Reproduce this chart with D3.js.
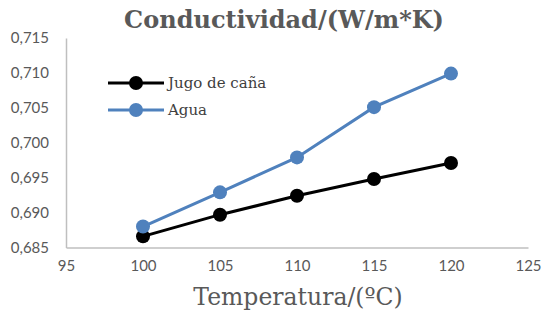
<!DOCTYPE html>
<html>
<head>
<meta charset="utf-8">
<script src="https://cdn.jsdelivr.net/npm/d3@7"></script>
<style>
  body { margin: 0; background: #fff; }
  svg { display: block; }
</style>
</head>
<body>
<div id="grafica"></div>
<script>
// datos
var temperaturas = [100, 105, 110, 115, 120];
var jugo = [0.6866, 0.6897, 0.6924, 0.6948, 0.6971];
var agua = [0.6880, 0.6929, 0.6979, 0.7051, 0.7099];
var series = ["Jugo de caña", "Agua"];
var colores = ["#000000", "#4f81bd"];
var ticksX = [95, 100, 105, 110, 115, 120, 125];
var ticksY = [0.685, 0.690, 0.695, 0.700, 0.705, 0.710, 0.715];

var ancho = 542, alto = 320;
var svg = d3.select("#grafica").append("svg")
  .attr("width", ancho)
  .attr("height", alto);

var x = d3.scaleLinear().domain([95, 125]).range([66, 528]);
var y = d3.scaleLinear().domain([0.685, 0.715]).range([247.5, 38]);

var es = d3.formatLocale({decimal: ",", thousands: ".", grouping: [3], currency: ["", "€"]});
var fmt = es.format(".3f");

var gris = "#595959";

// titulo
svg.append("text")
  .attr("x", 284)
  .attr("y", 28)
  .attr("text-anchor", "middle")
  .attr("font-family", "DejaVu Serif")
  .attr("font-weight", "bold")
  .attr("font-size", 24)
  .attr("fill", gris)
  .text("Conductividad/(W/m*K)");

// ejes
var ejeY = svg.append("g")
  .attr("transform", "translate(" + x(95) + ",0)")
  .call(d3.axisLeft(y).tickValues(ticksY).tickFormat(fmt).tickSize(0).tickPadding(17));
var ejeX = svg.append("g")
  .attr("transform", "translate(0," + y(0.685) + ")")
  .call(d3.axisBottom(x).tickValues(ticksX).tickSize(0).tickPadding(13));

[ejeX, ejeY].forEach(function (e) {
  e.select(".domain").attr("stroke", "#bfbfbf").attr("stroke-width", 1.5);
  e.selectAll("text")
    .attr("font-family", "Lato")
    .attr("font-size", 15)
    .attr("fill", gris);
});

// titulo eje x
svg.append("text")
  .attr("x", 298)
  .attr("y", 305)
  .attr("text-anchor", "middle")
  .attr("font-family", "DejaVu Serif")
  .attr("font-size", 23.5)
  .attr("fill", gris)
  .text("Temperatura/(ºC)");

// lineas
var linea = d3.line()
  .x(function (d, i) { return x(temperaturas[i]); })
  .y(function (d) { return y(d); });

[jugo, agua].forEach(function (vals, k) {
  svg.append("path")
    .datum(vals)
    .attr("d", linea)
    .attr("fill", "none")
    .attr("stroke", colores[k])
    .attr("stroke-width", 3);
  svg.selectAll(null)
    .data(vals)
    .enter().append("circle")
    .attr("cx", function (d, i) { return x(temperaturas[i]); })
    .attr("cy", function (d) { return y(d); })
    .attr("r", 7)
    .attr("fill", colores[k]);
});

// leyenda
var leyenda = svg.append("g");
series.forEach(function (s, k) {
  var ly = 83 + k * 27;
  leyenda.append("line")
    .attr("x1", 108).attr("x2", 164)
    .attr("y1", ly).attr("y2", ly)
    .attr("stroke", colores[k])
    .attr("stroke-width", 3);
  leyenda.append("circle")
    .attr("cx", 136).attr("cy", ly)
    .attr("r", 7)
    .attr("fill", colores[k]);
  leyenda.append("text")
    .attr("x", 168)
    .attr("y", ly + 5)
    .attr("font-family", "DejaVu Serif")
    .attr("font-size", 15)
    .attr("fill", "#404040")
    .text(s);
});
</script>
</body>
</html>
